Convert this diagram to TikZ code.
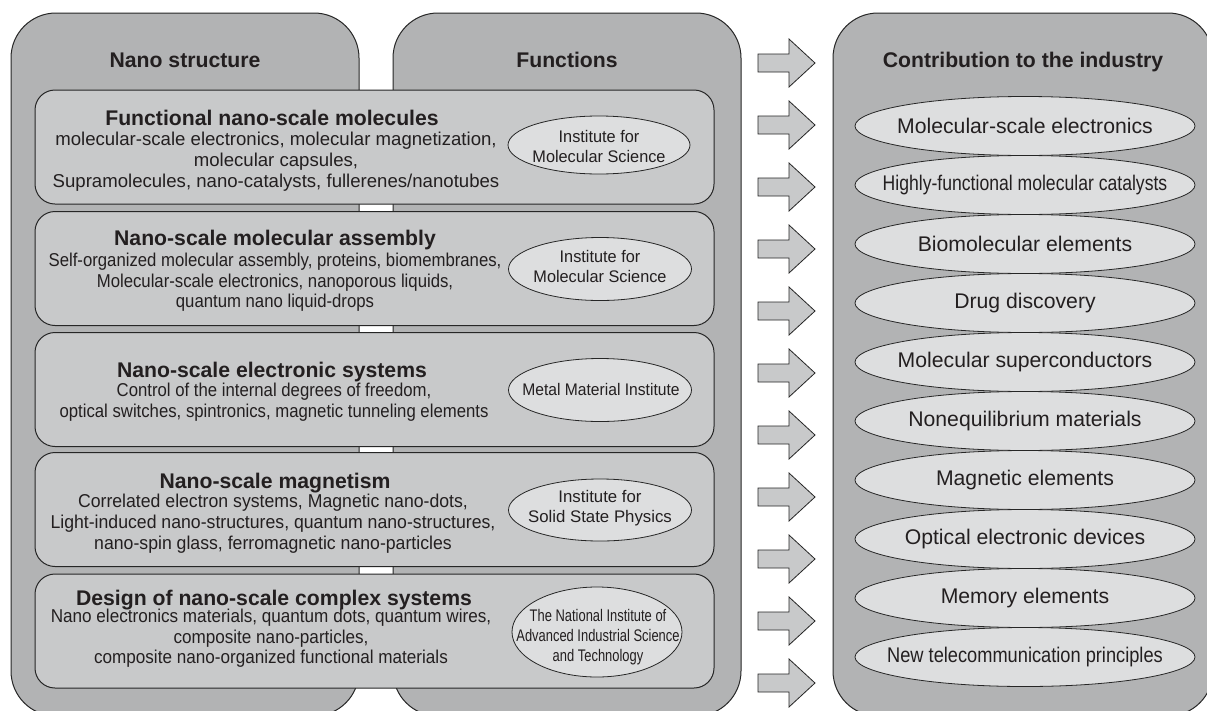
\documentclass[tikz,border=0pt]{standalone}
\usepackage{fontspec}
\usepackage{graphicx}
\setmainfont{Liberation Sans}
\usetikzlibrary{shapes.geometric}
\definecolor{outerfill}{RGB}{178,179,180}
\definecolor{innerfill}{RGB}{200,201,202}
\definecolor{ellfill}{RGB}{221,222,223}
\definecolor{txt}{RGB}{35,31,32}
\definecolor{edge}{RGB}{38,38,38}
\newcommand{\sqz}[2]{\scalebox{#1}[1]{\begin{tabular}{@{}c@{}}#2\end{tabular}}}
\begin{document}
\begin{tikzpicture}[x=1pt,y=-1pt,
  outer/.style={draw=edge, line width=1pt, fill=outerfill, rounded corners=45pt, inner sep=0pt, outer sep=0pt},
  inner/.style={draw=edge, line width=1pt, fill=innerfill, rounded corners=20pt, inner sep=0pt, outer sep=0pt, minimum width=679pt, minimum height=114pt},
  ell/.style={ellipse, draw=edge, line width=0.8pt, fill=ellfill, inner sep=0pt},
  rell/.style={ell, minimum width=340pt, minimum height=59pt},
  etext/.style={text=txt, inner sep=0pt, font=\fontsize{16.8}{20}\selectfont},
  rtext/.style={text=txt, inner sep=0pt, font=\fontsize{21.2}{24}\selectfont},
  hdr/.style={text=txt, anchor=base, inner sep=0pt, font=\fontsize{21.2}{24}\selectfont\bfseries},
  ttl/.style={text=txt, anchor=base, inner sep=0pt, font=\fontsize{21.2}{24}\selectfont\bfseries},
  body/.style={text=txt, inner sep=0pt, font=\fontsize{18.6}{21}\selectfont},
  arr/.style={draw=edge, line width=0.8pt, fill=innerfill, line join=miter}
]
\useasboundingbox (0,0) rectangle (1207,710);
\clip (0,0) rectangle (1207,710);
\fill[white] (0,0) rectangle (1207,710);

% big containers
\node[outer, minimum width=348pt, minimum height=703pt] (ns) at (185,364.5) {};
\node[outer, minimum width=348pt, minimum height=703pt] (fn) at (567,364.5) {};
\node[outer, minimum width=380pt, minimum height=703pt] (ci) at (1023,364.5) {};

\node[hdr] (hns) at (185,67.5) {Nano structure};
\node[hdr] (hfn) at (567,67.5) {Functions};
\node[hdr] (hci) at (1023,67.5) {Contribution to the industry};

% inner boxes
\node[inner] (b1) at (374.5,147) {};
\node[inner] (b2) at (374.5,268.5) {};
\node[inner] (b3) at (374.5,389.5) {};
\node[inner] (b4) at (374.5,509.5) {};
\node[inner] (b5) at (374.5,631) {};

\node[ttl] (t1) at (272,125.5) {Functional nano-scale molecules};
\node[body] (d1) at (276,162) {\sqz{1}{molecular-scale electronics, molecular magnetization,\\molecular capsules,\\Supramolecules, nano-catalysts, fullerenes/nanotubes}};

\node[ttl] (t2) at (275,245.5) {Nano-scale molecular assembly};
\node[body, font=\fontsize{18.6}{20.5}\selectfont] (d2) at (275,283) {\sqz{0.9}{Self-organized molecular assembly, proteins, biomembranes,\\Molecular-scale electronics, nanoporous liquids,\\quantum nano liquid-drops}};

\node[ttl] (t3) at (272,377.5) {Nano-scale electronic systems};
\node[body] (d3) at (274,402.5) {\sqz{0.9}{Control of the internal degrees of freedom,\\optical switches, spintronics, magnetic tunneling elements}};

\node[ttl] (t4) at (275,488.5) {Nano-scale magnetism};
\node[body] (d4) at (273,524) {\sqz{0.95}{Correlated electron systems, Magnetic nano-dots,\\Light-induced nano-structures, quantum nano-structures,\\nano-spin glass, ferromagnetic nano-particles}};

\node[ttl] (t5) at (274,605.5) {Design of nano-scale complex systems};
\node[body, font=\fontsize{18.6}{20.5}\selectfont] (d5) at (271,639) {\sqz{0.92}{Nano electronics materials, quantum dots, quantum wires,\\composite nano-particles,\\composite nano-organized functional materials}};

% institute ellipses
\node[ell, minimum width=182pt, minimum height=58pt] (e1) at (599,145) {};
\node[etext] (x1) at (599,148) {\sqz{0.97}{Institute for\\Molecular Science}};
\node[ell, minimum width=183pt, minimum height=63pt] (e2) at (600,269) {};
\node[etext] (x2) at (600,268.5) {\sqz{0.97}{Institute for\\Molecular Science}};
\node[ell, minimum width=183pt, minimum height=63pt] (e3) at (600,390) {};
\node[etext] (x3) at (601,391) {\sqz{0.93}{Metal Material Institute}};
\node[ell, minimum width=183pt, minimum height=62pt] (e4) at (600,510) {};
\node[etext] (x4) at (600,508) {\sqz{1}{Institute for\\Solid State Physics}};
\node[ell, minimum width=170pt, minimum height=90pt] (e5) at (597,632) {};
\node[etext] (x5) at (598,637) {\sqz{0.77}{The National Institute of\\Advanced Industrial Science\\and Technology}};

% arrows
\foreach \k in {0,...,10}{
  \pgfmathsetmacro{\yy}{63+62*\k}
  \draw[arr] (758,\yy-9) -- (789,\yy-9) -- (789,\yy-24) -- (815,\yy) -- (789,\yy+24) -- (789,\yy+9) -- (758,\yy+9) -- cycle;
}

% contribution ellipses
\node[rell] (r1) at (1025,126) {};
\node[rtext] at (r1) {Molecular-scale electronics};
\node[rell] (r2) at (1025,185) {};
\node[rtext] at (r2) {\scalebox{0.83}[1]{Highly-functional molecular catalysts}};
\node[rell] (r3) at (1025,244) {};
\node[rtext] at (r3) {Biomolecular elements};
\node[rell] (r4) at (1025,303) {};
\node[rtext] at (r4) {Drug discovery};
\node[rell] (r5) at (1025,362) {};
\node[rtext] at (r5) {Molecular superconductors};
\node[rell] (r6) at (1025,421) {};
\node[rtext] at (r6) {Nonequilibrium materials};
\node[rell] (r7) at (1025,480) {};
\node[rtext] at (r7) {Magnetic elements};
\node[rell] (r8) at (1025,539) {};
\node[rtext] at (r8) {Optical electronic devices};
\node[rell] (r9) at (1025,598) {};
\node[rtext] at (r9) {Memory elements};
\node[rell] (r10) at (1025,657) {};
\node[rtext] at (r10) {\scalebox{0.86}[1]{New telecommunication principles}};
\end{tikzpicture}
\end{document}
